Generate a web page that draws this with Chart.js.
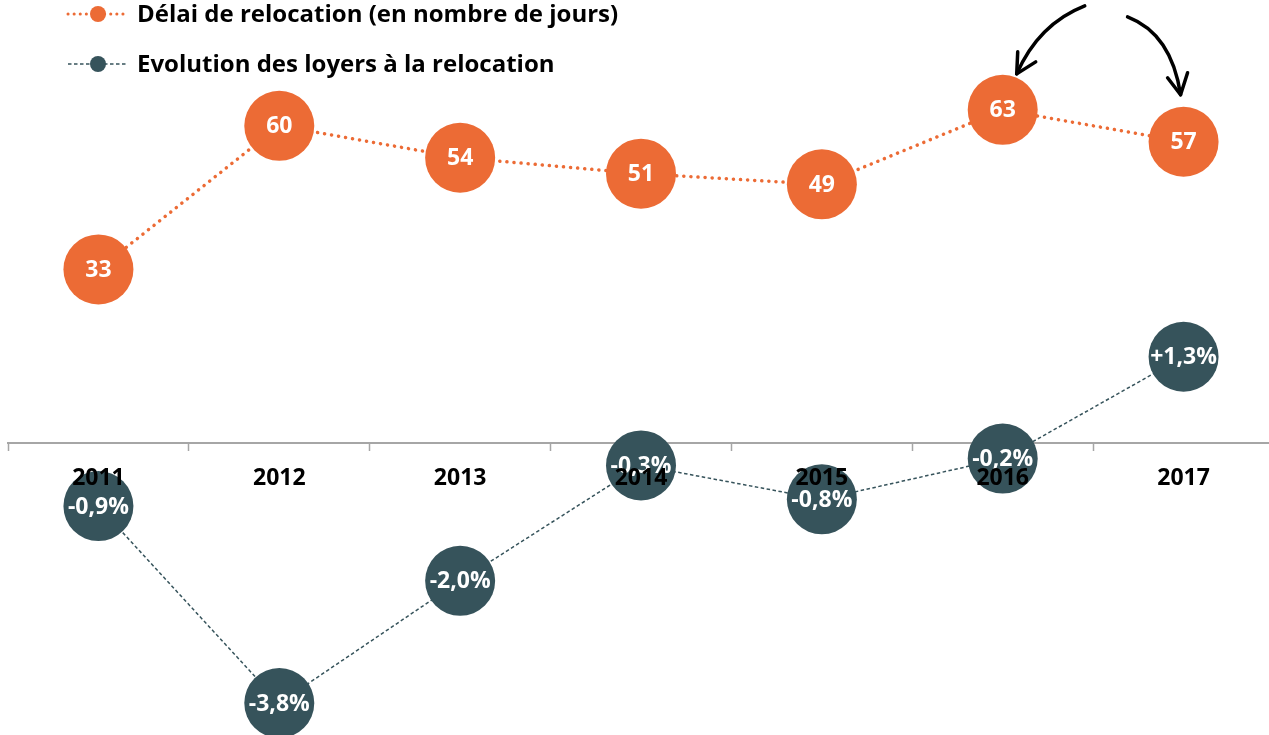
<!DOCTYPE html>
<html><head><meta charset="utf-8">
<script src="https://cdn.jsdelivr.net/npm/chart.js@4"></script>
<style>html,body{margin:0;padding:0;overflow:hidden;background:#fff}#wrap{width:1274px;height:735px}</style>
</head><body><div id="wrap"><canvas id="c"></canvas></div>
<script>
const years = ['2011','2012','2013','2014','2015','2016','2017'];
const delaiJours = [33, 60, 54, 51, 49, 63, 57];
const evolutionLoyers = [-0.9, -3.8, -2.0, -0.3, -0.8, -0.2, 1.3];
const seriesNames = ['Délai de relocation (en nombre de jours)', 'Evolution des loyers à la relocation'];

const ORANGE = '#EC6B35', TEAL = '#36535B';
const FONT = '"Open Sans", Lato, sans-serif';

function fmtPct(v){ return (v > 0 ? '+' : (v < 0 ? '-' : '')) + Math.abs(v).toFixed(1).replace('.', ',') + '%'; }

const valueLabels = {
  id: 'valueLabels',
  afterDatasetsDraw(chart){
    const ctx = chart.ctx;
    ctx.save();
    ctx.font = 'bold 23px ' + FONT;
    ctx.fillStyle = '#fff';
    ctx.textAlign = 'center';
    ctx.textBaseline = 'middle';
    chart.data.datasets.forEach((ds, i) => {
      const meta = chart.getDatasetMeta(i);
      meta.data.forEach((pt, j) => {
        const v = ds.data[j];
        const t = i === 0 ? String(v) : fmtPct(v);
        ctx.fillText(t, pt.x, pt.y + 1);
      });
    });
    ctx.restore();
  }
};

const lineLegend = {
  id: 'lineLegend',
  afterDraw(chart){
    const ctx = chart.ctx;
    const rows = [14, 64];
    chart.data.datasets.forEach((ds, i) => {
      const y = rows[i];
      ctx.save();
      ctx.strokeStyle = ds.borderColor;
      ctx.lineWidth = i === 0 ? 3 : 1.5;
      ctx.setLineDash(i === 0 ? [0.1, 6] : [3.5, 2.5]);
      ctx.lineCap = i === 0 ? 'round' : 'butt';
      ctx.beginPath(); ctx.moveTo(68, y); ctx.lineTo(126, y); ctx.stroke();
      ctx.setLineDash([]);
      ctx.fillStyle = ds.pointBackgroundColor;
      ctx.beginPath(); ctx.arc(98, y, 8, 0, Math.PI * 2); ctx.fill();
      ctx.font = 'bold 24px ' + FONT;
      ctx.fillStyle = '#000';
      ctx.textBaseline = 'middle';
      ctx.textAlign = 'left';
      ctx.fillText(ds.label, 137, y + 1);
      ctx.restore();
    });
  }
};

const arrows = {
  id: 'arrows',
  afterDraw(chart){
    const m = chart.getDatasetMeta(0);
    const a = m.data[5], b = m.data[6];
    const ctx = chart.ctx;
    ctx.save();
    ctx.strokeStyle = '#000';
    ctx.lineWidth = 3.5;
    ctx.lineCap = 'round';
    ctx.lineJoin = 'round';
    let tx = a.x + 14, ty = a.y - 36;
    ctx.beginPath(); ctx.moveTo(a.x + 82, a.y - 104); ctx.quadraticCurveTo(a.x + 36, a.y - 86, tx, ty); ctx.stroke();
    ctx.beginPath(); ctx.moveTo(tx + 1, ty - 22); ctx.lineTo(tx, ty); ctx.lineTo(tx + 19, ty - 12); ctx.stroke();
    tx = b.x - 3; ty = b.y - 47;
    ctx.beginPath(); ctx.moveTo(b.x - 56, b.y - 125); ctx.quadraticCurveTo(b.x - 12, b.y - 108, tx, ty); ctx.stroke();
    ctx.beginPath(); ctx.moveTo(tx - 13, ty - 17); ctx.lineTo(tx, ty); ctx.lineTo(tx + 7, ty - 22); ctx.stroke();
    ctx.restore();
  }
};

new Chart(document.getElementById('c'), {
  type: 'line',
  data: {
    labels: years,
    datasets: [
      {
        label: seriesNames[0], data: delaiJours, yAxisID: 'yDelai',
        borderColor: ORANGE, borderWidth: 3.5, borderDash: [0.1, 7], borderCapStyle: 'round',
        pointRadius: 35, pointHoverRadius: 35, pointBackgroundColor: ORANGE, pointBorderWidth: 0,
        tension: 0, clip: false
      },
      {
        label: seriesNames[1], data: evolutionLoyers, yAxisID: 'y',
        borderColor: TEAL, borderWidth: 1.5, borderDash: [3.5, 2.5],
        pointRadius: 35, pointHoverRadius: 35, pointBackgroundColor: TEAL, pointBorderWidth: 0,
        tension: 0, clip: false
      }
    ]
  },
  options: {
    responsive: true, maintainAspectRatio: false, animation: false,
    events: [],
    layout: { autoPadding: false, padding: { left: 8, right: 0, top: 0, bottom: 0 } },
    plugins: { legend: { display: false }, tooltip: { enabled: false } },
    scales: {
      x: {
        position: { y: 0.03 },
        offset: true,
        grid: { offset: true, drawOnChartArea: false, drawTicks: true, tickLength: 7, color: '#A6A6A6', tickWidth: 1.5 },
        border: { display: true, color: '#A6A6A6', width: 2 },
        ticks: { z: 1, padding: 15, color: '#000', font: { family: FONT, size: 23, weight: 'bold' } }
      },
      y: { display: false, min: -4.271, max: 6.554 },
      yDelai: { display: false, min: -54.51, max: 83.65 }
    }
  },
  plugins: [valueLabels, lineLegend, arrows]
});
</script>
</body></html>
